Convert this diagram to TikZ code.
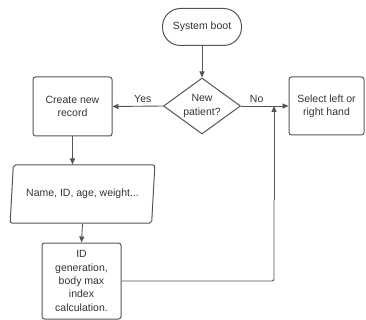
\documentclass[tikz,border=0pt]{standalone}
\usepackage{fontspec}
\setmainfont{Liberation Sans}
\usetikzlibrary{shapes.geometric,arrows.meta}
\definecolor{edge}{HTML}{555555}
\definecolor{ink}{HTML}{333333}
\begin{document}
\begin{tikzpicture}[x=1pt,y=-1pt,
  every node/.style={text=ink,font=\fontsize{10.5}{13.3}\selectfont,align=center,inner sep=0pt},
  box/.style={draw=edge,line width=1pt,rectangle,rounded corners=2.5pt},
  term/.style={draw=edge,line width=1pt,rectangle,rounded corners=18pt},
  decide/.style={draw=edge,line width=1pt,diamond,shape aspect=1.4},
  io/.style={draw=edge,line width=1pt,trapezium,trapezium left angle=75,trapezium right angle=105,trapezium stretches=true,rounded corners=2pt},
  flow/.style={draw=edge,line width=0.9pt,-{Triangle[length=6pt,width=5pt]}},
  wire/.style={draw=edge,line width=0.9pt,rounded corners=2pt}]
\useasboundingbox (0,0) rectangle (366,320);

\node[term,minimum width=79pt,minimum height=37pt] (boot) at (202,27) {System boot};
\node[decide,minimum width=77pt,minimum height=56pt] (dec) at (202,106) {New\\patient?};
\node[box,minimum width=79pt,minimum height=59pt] (create) at (72.5,106.5) {Create new\\record};
\node[box,minimum width=75pt,minimum height=58pt] (select) at (326.5,106) {Select left or\\right hand};
\node[io,minimum width=145pt,minimum height=58pt] (data) at (82.5,194) {Name, ID, age, weight...};
\node[box,minimum width=79pt,minimum height=76pt] (idgen) at (81.5,281) {ID\\generation,\\body max\\index\\calculation.};
\coordinate (join) at (274,106);

\draw[flow] (boot) -- (dec);
\draw[flow] (dec.west) -- node[pos=0.4,above=3pt] {Yes} (create.east);
\draw[flow] (dec.east) -- node[pos=0.33,above=3pt] {No} (select.west);
\draw[flow] (create.south) -- (create.south |- data.north);
\draw[flow] (data.south) -- (idgen.north);
\draw[wire] (idgen.east) -| (274,200);
\draw[flow] (274,200) -- (join);
\end{tikzpicture}
\end{document}
